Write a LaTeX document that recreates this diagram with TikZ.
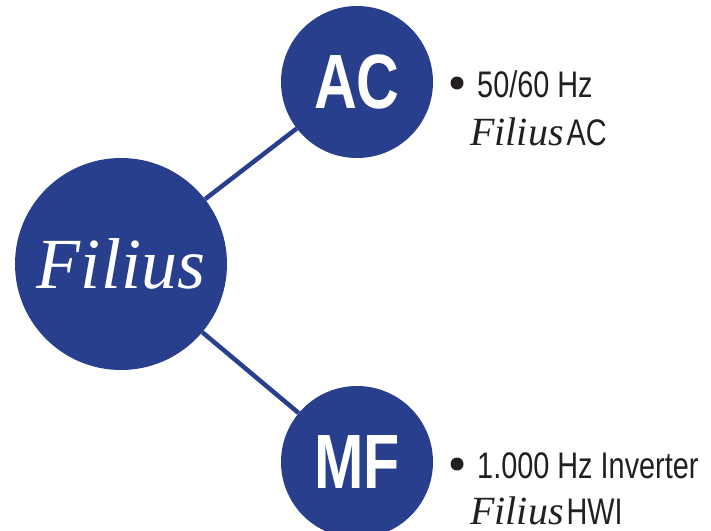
\documentclass[tikz,border=0pt]{standalone}
\usepackage{fontspec}
\setmainfont{Liberation Serif}
\newfontfamily\condfont[FakeStretch=0.78]{Liberation Sans}
\newfontfamily\condbold[FakeStretch=0.77]{Liberation Sans Bold}
\newfontfamily\serifit{Liberation Serif Italic}
\definecolor{filblue}{RGB}{39,63,140}
\definecolor{txtgray}{RGB}{35,31,32}
\begin{document}
\begin{tikzpicture}[x=1pt,y=-1pt,
  bigcirc/.style={circle,fill=filblue,inner sep=0pt,minimum size=212pt,text=white,
    font=\serifit\fontsize{72}{74}\selectfont},
  smallcirc/.style={circle,fill=filblue,inner sep=0pt,minimum size=152pt,text=white,
    font=\condbold\fontsize{77}{80}\selectfont},
  link/.style={draw=filblue,line width=4.5pt},
  bulletdot/.style={circle,fill=txtgray,inner sep=0pt,minimum size=13pt},
  infotext/.style={anchor=base west,inner sep=0pt,text=txtgray,
    font=\condfont\fontsize{37}{40}\selectfont},
  brandtext/.style={anchor=base west,inner sep=0pt,text=txtgray}
]
\useasboundingbox (0,0) rectangle (711,530);
\node[bigcirc] (fil) at (121,264) {Filius};
\node[smallcirc] (ac) at (357,82) {AC};
\node[smallcirc] (mf) at (357,462) {MF};
\draw[link] (fil) -- (ac);
\draw[link] (fil) -- (mf);
% AC info
\node[bulletdot] (b1) at (457,83) {};
\node[infotext] (t1) at (477,97) {50/60 Hz};
\node[brandtext] (t2) at (470,145) {{\serifit\fontsize{40}{42}\selectfont Filius}\hspace{3pt}{\condfont\fontsize{37}{40}\selectfont AC}};
% MF info
\node[bulletdot] (b2) at (457,464) {};
\node[infotext] (t3) at (477,478) {1.000 Hz Inverter};
\node[brandtext] (t4) at (470,524) {{\serifit\fontsize{40}{42}\selectfont Filius}\hspace{3pt}{\condfont\fontsize{37}{40}\selectfont HWI}};
\end{tikzpicture}
\end{document}
